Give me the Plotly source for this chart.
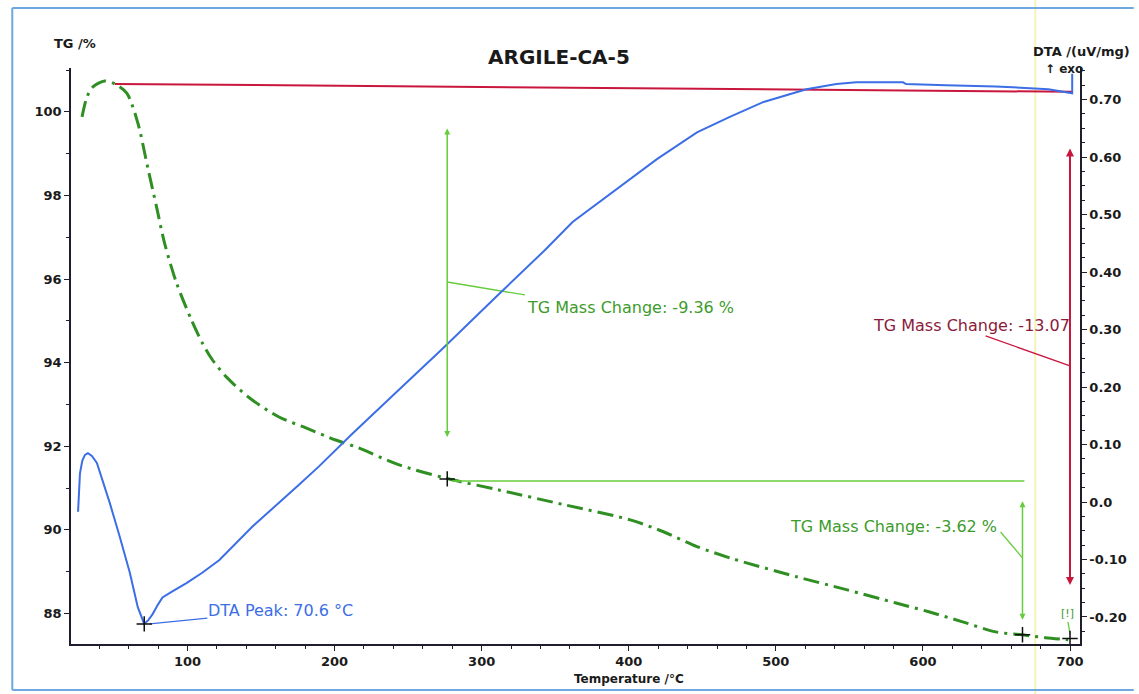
import plotly.graph_objects as go

# ---------------- data ----------------
# TG curve (left axis, %)
tg_T = [28.3, 31.7, 35.7, 43.8, 50.6, 58.7, 66.2, 72.9, 79.0, 84.4, 92.6, 102.7, 110.1, 116.9,
        126.4, 142.0, 162.2, 180.5, 200.8, 216.4, 243.4, 275.2, 311.0, 356.4, 401.0, 424.0,
        446.4, 468.7, 478.2, 514.0, 547.9, 581.7, 604.0, 627.0, 649.4, 667.7, 683.2, 698.8]
tg_val = [99.88, 100.36, 100.60, 100.74, 100.67, 100.45, 99.74, 98.68, 97.72, 96.86, 95.90, 95.02,
          94.47, 94.07, 93.66, 93.16, 92.70, 92.44, 92.15, 91.96, 91.56, 91.24, 90.96, 90.60,
          90.24, 89.95, 89.60, 89.33, 89.23, 88.88, 88.57, 88.25, 88.04, 87.80, 87.56, 87.49,
          87.42, 87.37]

# DTA curve (right axis, uV/mg)
dta_T = [25.6, 26.9, 28.5, 30.3, 32.3, 35.0, 38.4, 42.0, 47.2, 54.0, 60.8, 66.2, 70.6, 73.5,
         76.3, 80.0, 83.0, 90.0, 99.3, 110.0, 121.7, 144.0, 167.0, 175.8, 189.4, 211.7, 238.7,
         273.9, 311.1, 342.9, 361.8, 399.0, 419.4, 446.4, 468.7, 491.7, 520.8, 541.1, 554.7,
         586.5, 588.5, 615.6, 649.4, 685.3, 701.5, 701.5]
dta_val = [-0.017, 0.050, 0.072, 0.082, 0.085, 0.080, 0.068, 0.040, -0.002, -0.061, -0.123, -0.183,
           -0.212, -0.205, -0.195, -0.178, -0.166, -0.155, -0.141, -0.123, -0.101, -0.043, 0.009,
           0.030, 0.062, 0.118, 0.183, 0.268, 0.360, 0.438, 0.487, 0.558, 0.597, 0.643, 0.670,
           0.696, 0.718, 0.727, 0.730, 0.730, 0.727, 0.725, 0.723, 0.718, 0.711, 0.745]

# total mass change (red) reference line and arrow
red_ref_T = [50.6, 701.5]
red_ref_TG = [100.67, 100.48]
red_arrow_T = 700.0
red_arrow_TG = [99.16, 88.68]
red_leader_T = [700.5, 642.6]
red_leader_TG = [93.92, 94.64]
red_label = "TG Mass Change: -13.07"
red_label_pos = (701.5, 94.90)

# step 1 (green)
step1_T = 276.6
step1_TG = [99.64, 92.22]
step1_leader_T = [276.6, 329.4]
step1_leader_TG = [95.93, 95.62]
step1_label = "TG Mass Change: -9.36 %"
step1_label_pos = (329.4, 95.33)

# horizontal reference (green)
href_T = [280.0, 669.0]
href_TG = [91.17, 91.17]

# step 2 (green)
step2_T = 667.7
step2_TG = [90.72, 87.85]
step2_leader_T = [667.7, 652.8]
step2_leader_TG = [89.33, 89.95]
step2_label = "TG Mass Change: -3.62 %"
step2_label_pos = (651.4, 90.07)

warn_label = "[!]"
warn_pos = (698.1, 88.01)
warn_leader_T = [698.6, 700.0]
warn_leader_TG = [87.80, 87.52]

# DTA peak
peak_T = 70.6
peak_val = -0.212
peak_leader_T = [74.3, 113.5]
peak_leader_val = [-0.212, -0.202]
peak_label = "DTA Peak: 70.6 °C"
peak_label_pos = (112.9, -0.188)

# TG evaluation points (+)
tg_marks_T = [276.6, 667.7, 700.0]
tg_marks_TG = [91.22, 87.49, 87.40]

# ticks
x_ticks = [100, 200, 300, 400, 500, 600, 700]
tg_ticks = [88, 90, 92, 94, 96, 98, 100]
dta_ticks = [-0.2, -0.1, 0.0, 0.1, 0.2, 0.3, 0.4, 0.5, 0.6, 0.7]
dta_ticktext = ["-0.20", "-0.10", "0.0", "0.10", "0.20", "0.30", "0.40", "0.50", "0.60", "0.70"]

# ---------------- styling ----------------
W, H = 1139, 694
L, R, T, B = 71, 1085, 68, 644   # plot area in pixels

GREEN_CURVE = "#2f8f22"
GREEN_ANN = "#66cc3d"
GREEN_TXT = "#3d9b2c"
BLUE = "#3c6ee6"
RED = "#c8163c"
RED_TXT = "#8b1a3a"
AX = "#1e1e2e"
FONT = "DejaVu Sans"


def px(xp, yp):
    return (xp - L) / (R - L), (B - yp) / (B - T)


fig = go.Figure()

# red reference line (TG axis)
fig.add_trace(go.Scatter(x=red_ref_T, y=red_ref_TG, mode="lines",
                         line=dict(color=RED, width=2), yaxis="y", hoverinfo="skip"))

# DTA curve
fig.add_trace(go.Scatter(x=dta_T, y=dta_val, mode="lines",
                         line=dict(color=BLUE, width=2), yaxis="y2", hoverinfo="skip"))

# TG curve
fig.add_trace(go.Scatter(x=tg_T, y=tg_val, mode="lines",
                         line=dict(color=GREEN_CURVE, width=3, dash="16px,6px,3px,6px",
                                   shape="spline", smoothing=0.8),
                         yaxis="y", hoverinfo="skip"))

# green horizontal reference
fig.add_trace(go.Scatter(x=href_T, y=href_TG, mode="lines",
                         line=dict(color=GREEN_ANN, width=1.5), yaxis="y", hoverinfo="skip"))

# leaders
for xs, ys, col, ax in [(step1_leader_T, step1_leader_TG, GREEN_ANN, "y"),
                        (step2_leader_T, step2_leader_TG, GREEN_ANN, "y"),
                        (warn_leader_T, warn_leader_TG, GREEN_ANN, "y"),
                        (red_leader_T, red_leader_TG, RED, "y"),
                        (peak_leader_T, peak_leader_val, BLUE, "y2")]:
    fig.add_trace(go.Scatter(x=xs, y=ys, mode="lines", line=dict(color=col, width=1.3),
                             yaxis=ax, hoverinfo="skip"))

# + markers
fig.add_trace(go.Scatter(x=tg_marks_T, y=tg_marks_TG, mode="markers", yaxis="y",
                         marker=dict(symbol="cross-thin", size=11, line=dict(color="#111", width=1.5)),
                         hoverinfo="skip"))
fig.add_trace(go.Scatter(x=[peak_T], y=[peak_val], mode="markers", yaxis="y2",
                         marker=dict(symbol="cross-thin", size=11, line=dict(color="#111", width=1.5)),
                         hoverinfo="skip"))

annotations = []


def dbl_arrow(x, y0, y1, color, width=1.5):
    annotations.append(dict(x=x, y=y1, ax=x, ay=y0, xref="x", yref="y", axref="x", ayref="y",
                            text="", showarrow=True, arrowhead=2, arrowsize=0.8, arrowwidth=width,
                            arrowcolor=color, arrowside="end+start"))


dbl_arrow(step1_T, step1_TG[0], step1_TG[1], GREEN_ANN)
dbl_arrow(step2_T, step2_TG[0], step2_TG[1], GREEN_ANN)
dbl_arrow(red_arrow_T, red_arrow_TG[0], red_arrow_TG[1], RED, 2)

lab_font = dict(family=FONT, size=16)
annotations += [
    dict(x=step1_label_pos[0], y=step1_label_pos[1], xref="x", yref="y", text=step1_label,
         showarrow=False, xanchor="left", yanchor="middle", font=dict(lab_font, color=GREEN_TXT)),
    dict(x=step2_label_pos[0], y=step2_label_pos[1], xref="x", yref="y", text=step2_label,
         showarrow=False, xanchor="right", yanchor="middle", font=dict(lab_font, color=GREEN_TXT)),
    dict(x=red_label_pos[0], y=red_label_pos[1], xref="x", yref="y", text=red_label,
         showarrow=False, xanchor="right", yanchor="middle", font=dict(lab_font, color=RED_TXT)),
    dict(x=peak_label_pos[0], y=peak_label_pos[1], xref="x", yref="y2", text=peak_label,
         showarrow=False, xanchor="left", yanchor="middle", font=dict(lab_font, color=BLUE)),
    dict(x=warn_pos[0], y=warn_pos[1], xref="x", yref="y", text=warn_label,
         showarrow=False, xanchor="center", yanchor="middle",
         font=dict(family=FONT, size=11, color=GREEN_TXT)),
]

# titles / axis labels
bold = dict(family=FONT, weight="bold", color="#1a1a1a")
xp, yp = px(561, 57)
annotations.append(dict(x=xp, y=yp, xref="paper", yref="paper", text="ARGILE-CA-5", showarrow=False,
                        xanchor="center", yanchor="middle", font=dict(bold, size=20)))
xp, yp = px(52, 43)
annotations.append(dict(x=xp, y=yp, xref="paper", yref="paper", text="TG /%", showarrow=False,
                        xanchor="left", yanchor="middle", font=dict(bold, size=13)))
xp, yp = px(1137, 51)
annotations.append(dict(x=xp, y=yp, xref="paper", yref="paper", text="DTA /(uV/mg)", showarrow=False,
                        xanchor="right", yanchor="middle", font=dict(bold, size=13)))
xp, yp = px(1069, 69)
annotations.append(dict(x=xp, y=yp, xref="paper", yref="paper", text="↑ exo", showarrow=False,
                        xanchor="center", yanchor="middle", font=dict(bold, size=12)))
_, yp = px(0, 679)
annotations.append(dict(x=400, y=yp, xref="x", yref="paper", text="Temperature /°C", showarrow=False,
                        xanchor="center", yanchor="middle", font=dict(bold, size=12)))

# scan frame decorations
shapes = []
x0, y_top = px(12, 8)
x1, y_bot = px(1139, 690)
shapes.append(dict(type="line", xref="paper", yref="paper", x0=x0, x1=x1, y0=y_top, y1=y_top,
                   line=dict(color="#6fa8e0", width=2)))
shapes.append(dict(type="line", xref="paper", yref="paper", x0=x0, x1=x0, y0=y_bot, y1=y_top,
                   line=dict(color="#6fa8e0", width=2)))
shapes.append(dict(type="line", xref="paper", yref="paper", x0=x0, x1=x1, y0=y_bot, y1=y_bot,
                   line=dict(color="#6fa8e0", width=2)))
xy, _ = px(1040, 0)
_, ybottom = px(0, 694)
_, ytop = px(0, 0)
shapes.append(dict(type="line", xref="paper", yref="paper", x0=xy, x1=xy, y0=ybottom, y1=ytop,
                   line=dict(color="#f6f2b8", width=2), layer="below"))

tickfont = dict(family=FONT, size=13, weight="bold", color="#1a1a1a")

fig.update_layout(
    width=W, height=H, autosize=False,
    margin=dict(l=L, r=W - R, t=T, b=H - B, pad=0),
    paper_bgcolor="white", plot_bgcolor="white",
    showlegend=False,
    annotations=annotations, shapes=shapes,
    xaxis=dict(range=[20.8, 706.8], tickvals=x_ticks, ticks="outside", ticklen=5, tickwidth=1.3,
               tickcolor=AX, showline=True, linecolor=AX, linewidth=1.5, showgrid=False,
               zeroline=False, tickfont=tickfont,
               minor=dict(dtick=20, tick0=0, ticks="outside", ticklen=3, tickcolor=AX, showgrid=False)),
    yaxis=dict(range=[87.27, 101.05], tickvals=tg_ticks, ticks="outside", ticklen=5, tickwidth=1.3,
               tickcolor=AX, showline=True, linecolor=AX, linewidth=1.5, showgrid=False,
               zeroline=False, tickfont=tickfont,
               minor=dict(dtick=1, tick0=87, ticks="outside", ticklen=3, tickcolor=AX, showgrid=False)),
    yaxis2=dict(range=[-0.247, 0.755], overlaying="y", side="right", tickvals=dta_ticks,
                ticktext=dta_ticktext, ticks="outside", ticklen=5, tickwidth=1.3, tickcolor=AX,
                showline=True, linecolor=AX, linewidth=1.5, showgrid=False, zeroline=False,
                tickfont=tickfont,
                minor=dict(dtick=0.025, tick0=0, ticks="outside", ticklen=3, tickcolor=AX, showgrid=False)),
)

fig.write_html("out.html", config={"displayModeBar": False})
